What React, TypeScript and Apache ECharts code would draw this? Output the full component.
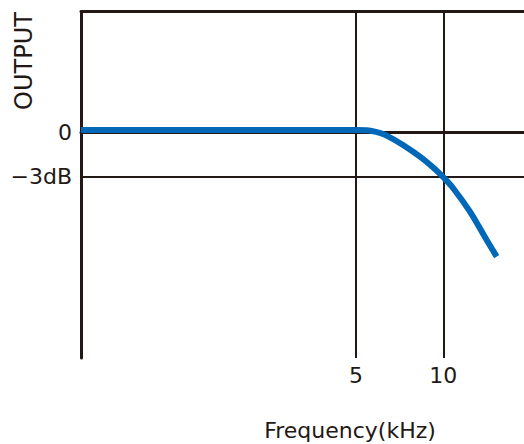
import React, { useEffect, useRef } from "react";
import * as echarts from "echarts";

const frequencyKHz = [0.563, 2, 5, 5.45, 6.0, 6.38, 7.26, 8.31, 9.49, 10, 10.8, 12.36, 14.11, 15.28];
const outputDB = [0.18, 0.18, 0.18, 0.17, 0.0, -0.2, -0.84, -1.64, -2.59, -3.04, -3.77, -5.39, -7.32, -8.45];
const xTickValues = [5, 10];
const yTickValues = [0, -3];
const yTickLabels: Record<string, string> = { "0": "0", "-3": "\u22123dB" };

const INK = "#231815";
const BLUE = "#0068b7";
const FONT = "'DejaVu Sans', sans-serif";

export default function App() {
  const ref = useRef<HTMLDivElement>(null);
  useEffect(() => {
    if (!ref.current) return;
    const chart = echarts.init(ref.current, undefined, { renderer: "svg" });
    const xBase = {
      type: "log",
      logBase: 10,
      min: 0.563,
      max: 18.98,
    };
    chart.setOption({
      animation: false,
      backgroundColor: "#ffffff",
      grid: {
        left: 81,
        top: 11.5,
        right: 0,
        bottom: 86,
      },
      xAxis: [
        {
          ...xBase,
          position: "bottom",
          axisLine: { show: true, lineStyle: { color: INK, width: 3 } },
          axisTick: { show: false, customValues: xTickValues },
          axisLabel: {
            customValues: xTickValues,
            color: INK,
            fontSize: 22,
            fontFamily: FONT,
            margin: 6,
          },
          splitLine: { show: true, lineStyle: { color: INK, width: 2 } },
          minorSplitLine: { show: false },
        },
        {
          ...xBase,
          position: "top",
          axisLine: { show: true, lineStyle: { color: INK, width: 3 } },
          axisTick: { show: false },
          axisLabel: { show: false },
          splitLine: { show: false },
        },
      ],
      yAxis: {
        type: "value",
        min: -15.36,
        max: 8.26,
        axisLine: { show: true, lineStyle: { color: INK, width: 3 } },
        axisTick: { show: false, customValues: yTickValues },
        axisLabel: {
          customValues: yTickValues,
          color: INK,
          fontSize: 22,
          fontFamily: FONT,
          margin: 9,
          formatter: (v: number) => yTickLabels[String(v)] ?? String(v),
        },
        splitLine: { show: true, lineStyle: { color: INK, width: 2 } },
      },
      series: [
        {
          type: "line",
          xAxisIndex: 0,
          data: frequencyKHz.map((f, i) => [f, outputDB[i]]),
          smooth: 0.3,
          showSymbol: false,
          symbol: "none",
          lineStyle: { color: BLUE, width: 6, cap: "butt" },
          z: 5,
        },
      ],
      graphic: [
        {
          type: "text",
          x: 24,
          y: 61,
          rotation: Math.PI / 2,
          style: {
            text: "OUTPUT",
            fill: INK,
            fontSize: 24,
            fontFamily: FONT,
            align: "center",
            verticalAlign: "middle",
          },
        },
        {
          type: "text",
          x: 350,
          y: 430,
          style: {
            text: "Frequency(kHz)",
            fill: INK,
            fontSize: 22,
            fontFamily: FONT,
            align: "center",
            verticalAlign: "middle",
          },
        },
      ],
    });
    return () => chart.dispose();
  }, []);
  return (
    <div
      ref={ref}
      style={{ position: "fixed", left: 0, top: 0, width: 524, height: 444 }}
    />
  );
}
